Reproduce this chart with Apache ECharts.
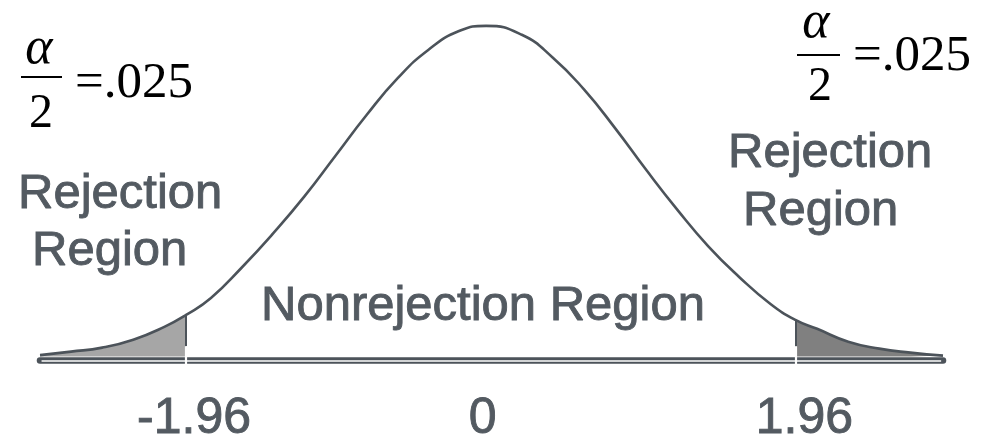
<!DOCTYPE html>
<html>
<head>
<meta charset="utf-8">
<script src="https://cdn.jsdelivr.net/npm/echarts@6/dist/echarts.min.js"></script>
<style>
  html, body { margin: 0; padding: 0; background: #ffffff; }
  #chart { width: 982px; height: 445px; }
</style>
</head>
<body>
<div id="chart"></div>
<script>
// Standardised test statistic (z) and the density curve drawn over it
const zValues = [-2.9, -2.7, -2.5, -2.3, -2.1, -1.96, -1.8, -1.6, -1.4, -1.2, -1.0, -0.8, -0.6, -0.4, -0.2, -0.03,
                 0.2, 0.4, 0.6, 0.8, 1.0, 1.2, 1.4, 1.6, 1.8, 1.96, 2.1, 2.3, 2.5, 2.7, 2.91];
const density = [0.0018, 0.0060, 0.0108, 0.0204, 0.0359, 0.0503, 0.0707, 0.1078, 0.1486, 0.1929, 0.2420, 0.2911, 0.3355, 0.3702, 0.3930, 0.3990,
                 0.3882, 0.3606, 0.3223, 0.2756, 0.2253, 0.1773, 0.1330, 0.0958, 0.0635, 0.0443, 0.0335, 0.0180, 0.0096, 0.0048, 0.0012];

// Critical values of the two-tailed test and the axis labels shown for them
const criticalValues = [-1.96, 1.96];
const tickValues = [-1.96, 0, 1.96];
const tickLabels = ['-1.96', '0', '1.96'];
const tailProbability = '.025';

const zMin = -2.9, zMax = 2.91;
const baseY = -0.0041;      // centre of the double base line
const gapY = -0.0046;       // white stripe inside it

const INK = '#4c535a';
const TEXT = '#535a61';
const SANS = '"Liberation Sans", Arial, sans-serif';
const SERIF = '"Liberation Serif", "Times New Roman", serif';

const curve = zValues.map((z, i) => [z, density[i]]);
const densityAt = z => density[zValues.indexOf(z)];

// Vertical cut-off strokes, with a white notch where they cross the base line
const cutoffLines = [];
criticalValues.forEach(z => {
  cutoffLines.push([
    { coord: [z, 0.0125], lineStyle: { color: INK, width: 2, type: 'solid' } },
    { coord: [z, densityAt(z)] }
  ]);
  cutoffLines.push([
    { coord: [z, -0.0095], lineStyle: { color: '#ffffff', width: 2.2, type: 'solid' } },
    { coord: [z, 0.0125] }
  ]);
});

const caption = (text, x, y) => ({
  type: 'text', x, y,
  style: { text, font: '49px ' + SANS, fill: TEXT, stroke: TEXT, lineWidth: 0.9, align: 'left', verticalAlign: 'middle' }
});
const serifText = (text, x, y, size, italic, align) => ({
  type: 'text', x, y,
  style: { text, font: (italic ? 'italic ' : '') + size + 'px ' + SERIF, fill: '#000', align: align || 'center', verticalAlign: 'middle' }
});

const chart = echarts.init(document.getElementById('chart'), null, { renderer: 'canvas' });

chart.setOption({
  animation: false,
  backgroundColor: '#ffffff',
  grid: { left: 40, right: 39, top: 25, bottom: 79, containLabel: false },
  xAxis: {
    type: 'value',
    min: zMin,
    max: zMax,
    axisLine: { show: false },
    axisTick: { show: false },
    splitLine: { show: false },
    axisLabel: {
      customValues: tickValues,
      margin: 30,
      formatter: v => {
        const i = tickValues.indexOf(v);
        const tag = i === 0 ? 'l' : (i === 1 ? 'c' : 'r');
        return '{' + tag + '|' + tickLabels[i] + '}';
      },
      rich: {
        l: { fontFamily: SANS, fontSize: 50, color: TEXT, textBorderColor: TEXT, textBorderWidth: 0.9, padding: [0, 0, 0, 16] },
        c: { fontFamily: SANS, fontSize: 50, color: TEXT, textBorderColor: TEXT, textBorderWidth: 0.9, padding: [0, 16, 0, 0] },
        r: { fontFamily: SANS, fontSize: 50, color: TEXT, textBorderColor: TEXT, textBorderWidth: 0.9, padding: [0, 0, 0, 18] }
      }
    }
  },
  yAxis: {
    type: 'value',
    min: -0.0096,
    max: 0.4,
    show: false,
    splitLine: { show: false }
  },
  visualMap: {
    show: false,
    type: 'piecewise',
    seriesIndex: 0,
    dimension: 0,
    pieces: [
      { lt: -1.96, color: '#a6a6a6' },
      { gte: -1.96, lte: 1.96, color: 'rgba(255,255,255,0)' },
      { gt: 1.96, color: '#808080' }
    ]
  },
  series: [
    {
      name: 'density',
      type: 'line',
      data: curve,
      smooth: true,
      showSymbol: false,
      clip: false,
      lineStyle: { color: INK, width: 2.6 },
      areaStyle: { opacity: 1 },
      z: 3,
      markLine: {
        silent: true,
        symbol: 'none',
        label: { show: false },
        emphasis: { disabled: true },
        data: [
          [
            { coord: [zMin, baseY], lineStyle: { color: INK, width: 6.5, type: 'solid', cap: 'round' } },
            { coord: [zMax, baseY] }
          ],
          [
            { coord: [zMin + 0.01, gapY], lineStyle: { color: '#ffffff', width: 1.6, type: 'solid' } },
            { coord: [zMax - 0.012, gapY] }
          ]
        ].concat(cutoffLines)
      }
    }
  ],
  graphic: [
    // left tail annotation
    serifText('α', 39, 49, 52, true),
    { type: 'line', shape: { x1: 21, y1: 77, x2: 62, y2: 77 }, style: { stroke: '#000', lineWidth: 2 } },
    serifText('2', 41, 114, 48, false),
    serifText('=' + tailProbability, 75, 84, 51, false, 'left'),
    // right tail annotation
    serifText('α', 816, 23, 52, true),
    { type: 'line', shape: { x1: 797, y1: 55, x2: 840, y2: 55 }, style: { stroke: '#000', lineWidth: 2 } },
    serifText('2', 820, 87, 48, false),
    serifText('=' + tailProbability, 853, 57, 51, false, 'left'),
    // region captions
    caption('Rejection', 18, 194),
    caption('Region', 32, 251),
    caption('Rejection', 728, 153),
    caption('Region', 743, 211),
    caption('Nonrejection Region', 261, 306)
  ]
});
</script>
</body>
</html>
